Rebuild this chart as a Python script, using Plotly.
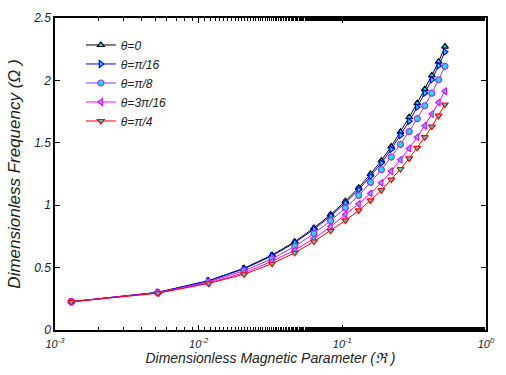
import plotly.graph_objects as go

# Dimensionless magnetic parameter (x)
mag_param = [0.0013, 0.0052, 0.0117, 0.0207, 0.0324, 0.0467, 0.0635, 0.0829, 0.105, 0.130,
             0.157, 0.187, 0.219, 0.254, 0.292, 0.332, 0.375, 0.420, 0.468, 0.518]

freq_theta_0 = [0.227, 0.302, 0.395, 0.495, 0.600, 0.708, 0.818, 0.925, 1.032, 1.140,
                1.250, 1.358, 1.470, 1.588, 1.705, 1.818, 1.930, 2.040, 2.150, 2.271]
freq_theta_pi16 = [0.227, 0.301, 0.393, 0.490, 0.594, 0.700, 0.808, 0.913, 1.018, 1.124,
                   1.232, 1.338, 1.448, 1.560, 1.673, 1.786, 1.898, 2.006, 2.118, 2.229]
freq_theta_pi8 = [0.227, 0.299, 0.385, 0.475, 0.570, 0.670, 0.772, 0.876, 0.978, 1.078,
                  1.183, 1.284, 1.386, 1.487, 1.590, 1.693, 1.797, 1.898, 2.005, 2.113]
freq_theta_3pi16 = [0.226, 0.297, 0.377, 0.458, 0.550, 0.640, 0.733, 0.830, 0.925, 1.010,
                    1.095, 1.180, 1.272, 1.365, 1.455, 1.545, 1.637, 1.730, 1.823, 1.913]
freq_theta_pi4 = [0.226, 0.295, 0.373, 0.446, 0.531, 0.618, 0.709, 0.795, 0.878, 0.958,
                  1.038, 1.120, 1.205, 1.290, 1.375, 1.460, 1.545, 1.630, 1.717, 1.807]

series_names = ["θ=0", "θ=π/16", "θ=π/8", "θ=3π/16", "θ=π/4"]
series_values = [freq_theta_0, freq_theta_pi16, freq_theta_pi8, freq_theta_3pi16, freq_theta_pi4]
line_colors = ["#000000", "#0000ff", "#9933ff", "#ff00ff", "#ff0000"]
marker_symbols = ["triangle-up", "triangle-right", "circle", "triangle-left", "triangle-down"]
fill_color = "#22dde8"

x_tickvals = [0.001, 0.01, 0.1, 1]
x_ticktext = ["10<sup>-3</sup>", "10<sup>-2</sup>", "10<sup>-1</sup>", "10<sup>0</sup>"]
y_tickvals = [0, 0.5, 1, 1.5, 2, 2.5]
y_ticktext = ["0", "0.5", "1", "1.5", "2", "2.5"]

fig = go.Figure()
for name, vals, col, sym in zip(series_names, series_values, line_colors, marker_symbols):
    fig.add_trace(go.Scatter(
        x=mag_param, y=vals, name=name, mode="lines+markers",
        line=dict(color=col, width=1),
        marker=dict(symbol=sym, size=6, color=fill_color, line=dict(color=col, width=1.2)),
    ))

font_family = "Liberation Sans, Arial, sans-serif"

fig.update_layout(
    width=506, height=375,
    margin=dict(l=55, r=11, t=15, b=44),
    paper_bgcolor="white", plot_bgcolor="white",
    font=dict(family=font_family, size=12, color="#222222"),
    showlegend=True,
    legend=dict(
        x=0.06, y=0.96, xanchor="left", yanchor="top",
        bgcolor="rgba(0,0,0,0)", borderwidth=0,
        font=dict(family=font_family, size=12, style="italic", color="#222222"),
        itemwidth=30, tracegroupgap=0,
    ),
    xaxis=dict(
        type="log", range=[-3, 0],
        tickvals=x_tickvals, ticktext=x_ticktext,
        ticks="inside", ticklen=5, tickcolor="black",
        minor=dict(ticks="inside", ticklen=3, tickcolor="black", showgrid=False),
        showline=True, linecolor="black", linewidth=1.5, mirror="ticks",
        showgrid=False, zeroline=False,
        ticklabelstandoff=3,
        tickfont=dict(family=font_family, size=11, style="italic"),
        title=dict(text="Dimensionless Magnetic Parameter (ℜ )",
                   font=dict(family=font_family, size=14, style="italic"), standoff=4),
    ),
    yaxis=dict(
        range=[0, 2.5],
        tickvals=y_tickvals, ticktext=y_ticktext,
        ticks="inside", ticklen=5, tickcolor="black",
        showline=True, linecolor="black", linewidth=1.5, mirror="ticks",
        showgrid=False, zeroline=False,
        tickfont=dict(family=font_family, size=12, style="italic"),
        title=dict(text="Dimensionless Frequency (Ω )",
                   font=dict(family=font_family, size=17, style="italic"), standoff=8),
    ),
)

fig.write_html("out.html")
